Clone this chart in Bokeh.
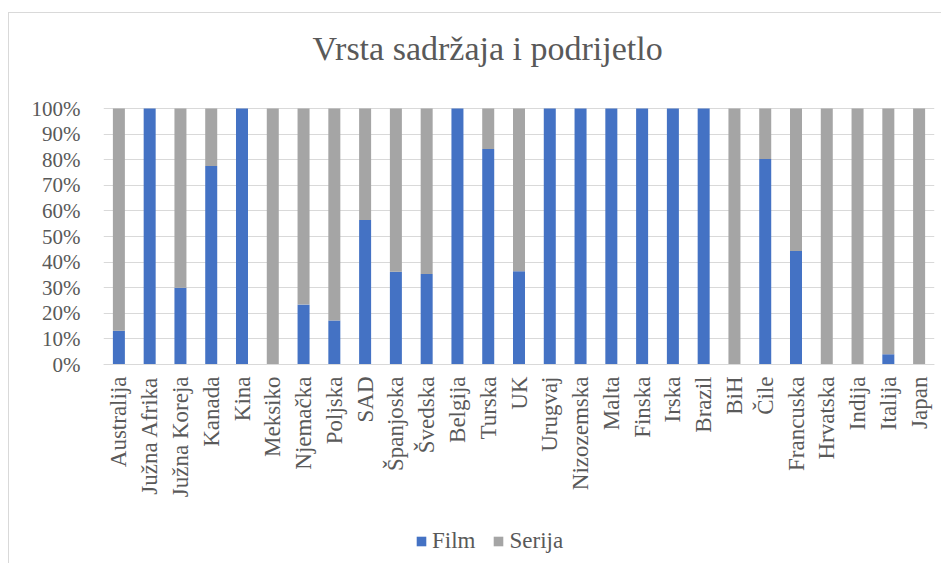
from bokeh.plotting import figure
from bokeh.models import FactorRange, Range1d, NumeralTickFormatter, FixedTicker, Legend, LegendItem, Label
from bokeh.embed import file_html
from bokeh.resources import INLINE
import math

countries = ["Australija", "Južna Afrika", "Južna Koreja", "Kanada", "Kina", "Meksiko",
             "Njemačka", "Poljska", "SAD", "Španjoska", "Švedska", "Belgija", "Turska",
             "UK", "Urugvaj", "Nizozemska", "Malta", "Finska", "Irska", "Brazil", "BiH",
             "Čile", "Francuska", "Hrvatska", "Indija", "Italija", "Japan"]
film = [13.2, 100, 30.0, 77.5, 100, 0, 23.4, 17.2, 56.4, 36.2, 35.4, 100, 84.2,
        36.4, 100, 100, 100, 100, 100, 100, 0, 80.3, 44.3, 0, 0, 4.0, 0]
serija = [86.8, 0, 70.0, 22.5, 0, 100, 76.6, 82.8, 43.6, 63.8, 64.6, 0, 15.8,
          63.6, 0, 0, 0, 0, 0, 0, 100, 19.7, 55.7, 100, 100, 96.0, 100]
series_names = ["Film", "Serija"]
colors = ["#4472C4", "#A5A5A5"]
y_ticks = [0, 0.1, 0.2, 0.3, 0.4, 0.5, 0.6, 0.7, 0.8, 0.9, 1.0]
title_text = "Vrsta sadržaja i podrijetlo"

FONT = "Liberation Serif"
TXT = "#595959"

data = {"country": countries,
        "Film": [v / 100 for v in film],
        "Serija": [v / 100 for v in serija]}

# frame covers the whole canvas height; 0..100% occupies 256 px starting 95 px below the top
PX = 256.0
TOP_PX = 95
BOTTOM_PX = 190
Y_END = 1 + TOP_PX / PX
Y_START = -BOTTOM_PX / PX

p = figure(x_range=FactorRange(*countries), y_range=Range1d(Y_START, Y_END),
           width=933, height=551, output_backend="svg", toolbar_location=None,
           min_border_left=94, min_border_right=8, min_border_top=0, min_border_bottom=10,
           margin=(12, 0, 0, 8))
p.styles = {"border-top": "1px solid #D9D9D9", "border-left": "1px solid #D9D9D9"}

rs = p.vbar_stack(series_names, x="country", width=0.39, color=colors, source=data, line_width=0)

title = Label(x=12.48, y=1 + 60 / PX, text=title_text, text_align="center",
              text_baseline="alphabetic", text_font=FONT, text_font_size="34px",
              text_color=TXT)
p.add_layout(title)

p.outline_line_color = None
p.xgrid.grid_line_color = None
p.ygrid.ticker = FixedTicker(ticks=y_ticks)
p.ygrid.grid_line_color = "#D9D9D9"
p.ygrid.grid_line_width = 1
p.yaxis.ticker = FixedTicker(ticks=y_ticks)
p.yaxis.formatter = NumeralTickFormatter(format="0%")
p.yaxis.axis_line_color = None
p.yaxis.major_tick_line_color = None
p.yaxis.minor_tick_line_color = None
p.yaxis.major_tick_out = 0
p.yaxis.major_label_standoff = 23
p.yaxis.major_label_text_font = FONT
p.yaxis.major_label_text_font_size = "21px"
p.yaxis.major_label_text_color = TXT

p.xaxis.fixed_location = 0
p.xaxis.axis_line_color = "#D9D9D9"
p.xaxis.major_tick_line_color = None
p.xaxis.major_tick_out = 0
p.xaxis.major_label_orientation = math.pi / 2
p.xaxis.major_label_standoff = 12
p.xaxis.major_label_text_font = FONT
p.xaxis.major_label_text_font_size = "23px"
p.xaxis.major_label_text_color = TXT

legend = Legend(items=[LegendItem(label=n, renderers=[r]) for n, r in zip(series_names, rs)],
                orientation="horizontal", location=(312, 0),
                glyph_width=12, glyph_height=12, label_standoff=5, spacing=17,
                padding=0, margin=0, border_line_color=None, background_fill_alpha=0,
                label_text_font=FONT, label_text_font_size="23px", label_text_color=TXT,
                label_height=20)
p.add_layout(legend, "center")

open("out.html", "w").write(file_html(p, INLINE))
